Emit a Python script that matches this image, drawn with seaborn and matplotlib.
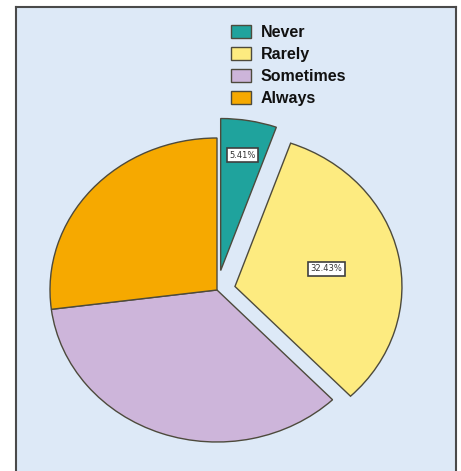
import numpy as np
import matplotlib
matplotlib.use("Agg")
import matplotlib.pyplot as plt
import seaborn as sns
from matplotlib.patches import Patch

categories = ["Never", "Rarely", "Sometimes", "Always"]
percent = [5.41, 32.43, 35.14, 27.03]
shown_labels = ["5.41%", "32.43%", "", ""]
label_radius = [0.77, 0.56, 0.6, 0.6]
explode = [0.13, 0.11, 0.0, 0.0]
colors = ["#1fa39d", "#fdeb80", "#cdb5da", "#f6a900"]

sns.set_theme(style="white")
plt.rcParams['font.family'] = ['Liberation Sans', 'DejaVu Sans']

W, H = 461, 471
fig = plt.figure(figsize=(W / 100, H / 100), dpi=100)
fig.patch.set_facecolor("white")

# axes box in pixels: x 16..456, y(top) 7..481
ax = fig.add_axes([16 / W, (H - 481) / H, 440 / W, 474 / H])

wedges, _ = ax.pie(percent, colors=colors, explode=explode, startangle=90,
                   counterclock=False,
                   wedgeprops=dict(edgecolor="#4d4a3c", linewidth=1.0))
ax.set_frame_on(True)
ax.set_facecolor("#dde9f7")
ax.set_aspect("auto")
cx, cy, rx, ry = 217, 290, 167, 152
ax.set_xlim((16 - cx) / rx, (456 - cx) / rx)
ax.set_ylim(-(481 - cy) / ry, (cy - 7) / ry)
ax.set_xticks([])
ax.set_yticks([])
for side in ["left", "right", "top"]:
    ax.spines[side].set_visible(True)
    ax.spines[side].set_color("#4a4a4a")
    ax.spines[side].set_linewidth(1.5)
ax.spines["bottom"].set_visible(False)

for w, lab, r in zip(wedges, shown_labels, label_radius):
    if not lab:
        continue
    mid = np.deg2rad((w.theta1 + w.theta2) / 2)
    x = w.center[0] + r * np.cos(mid)
    y = w.center[1] + r * np.sin(mid)
    ax.text(x, y, lab, ha="center", va="center", fontsize=6,
            family=['DejaVu Sans'], color="#333333",
            bbox=dict(boxstyle="square,pad=0.3", fc="white", ec="#3f3f3f", lw=1.2))

handles = [Patch(facecolor=c, edgecolor="#4d4a3c", linewidth=1.0) for c in colors]
leg = fig.legend(handles, categories, loc="upper left",
                 bbox_to_anchor=(220 / W, 1 - 14 / H), frameon=False,
                 fontsize=11.5, handlelength=1.25, handleheight=0.9,
                 handletextpad=0.6, labelspacing=0.42, borderpad=0.2)
for t in leg.get_texts():
    t.set_color("#111111")
    t.set_fontweight("bold")

fig.savefig("out.png", dpi=100)
